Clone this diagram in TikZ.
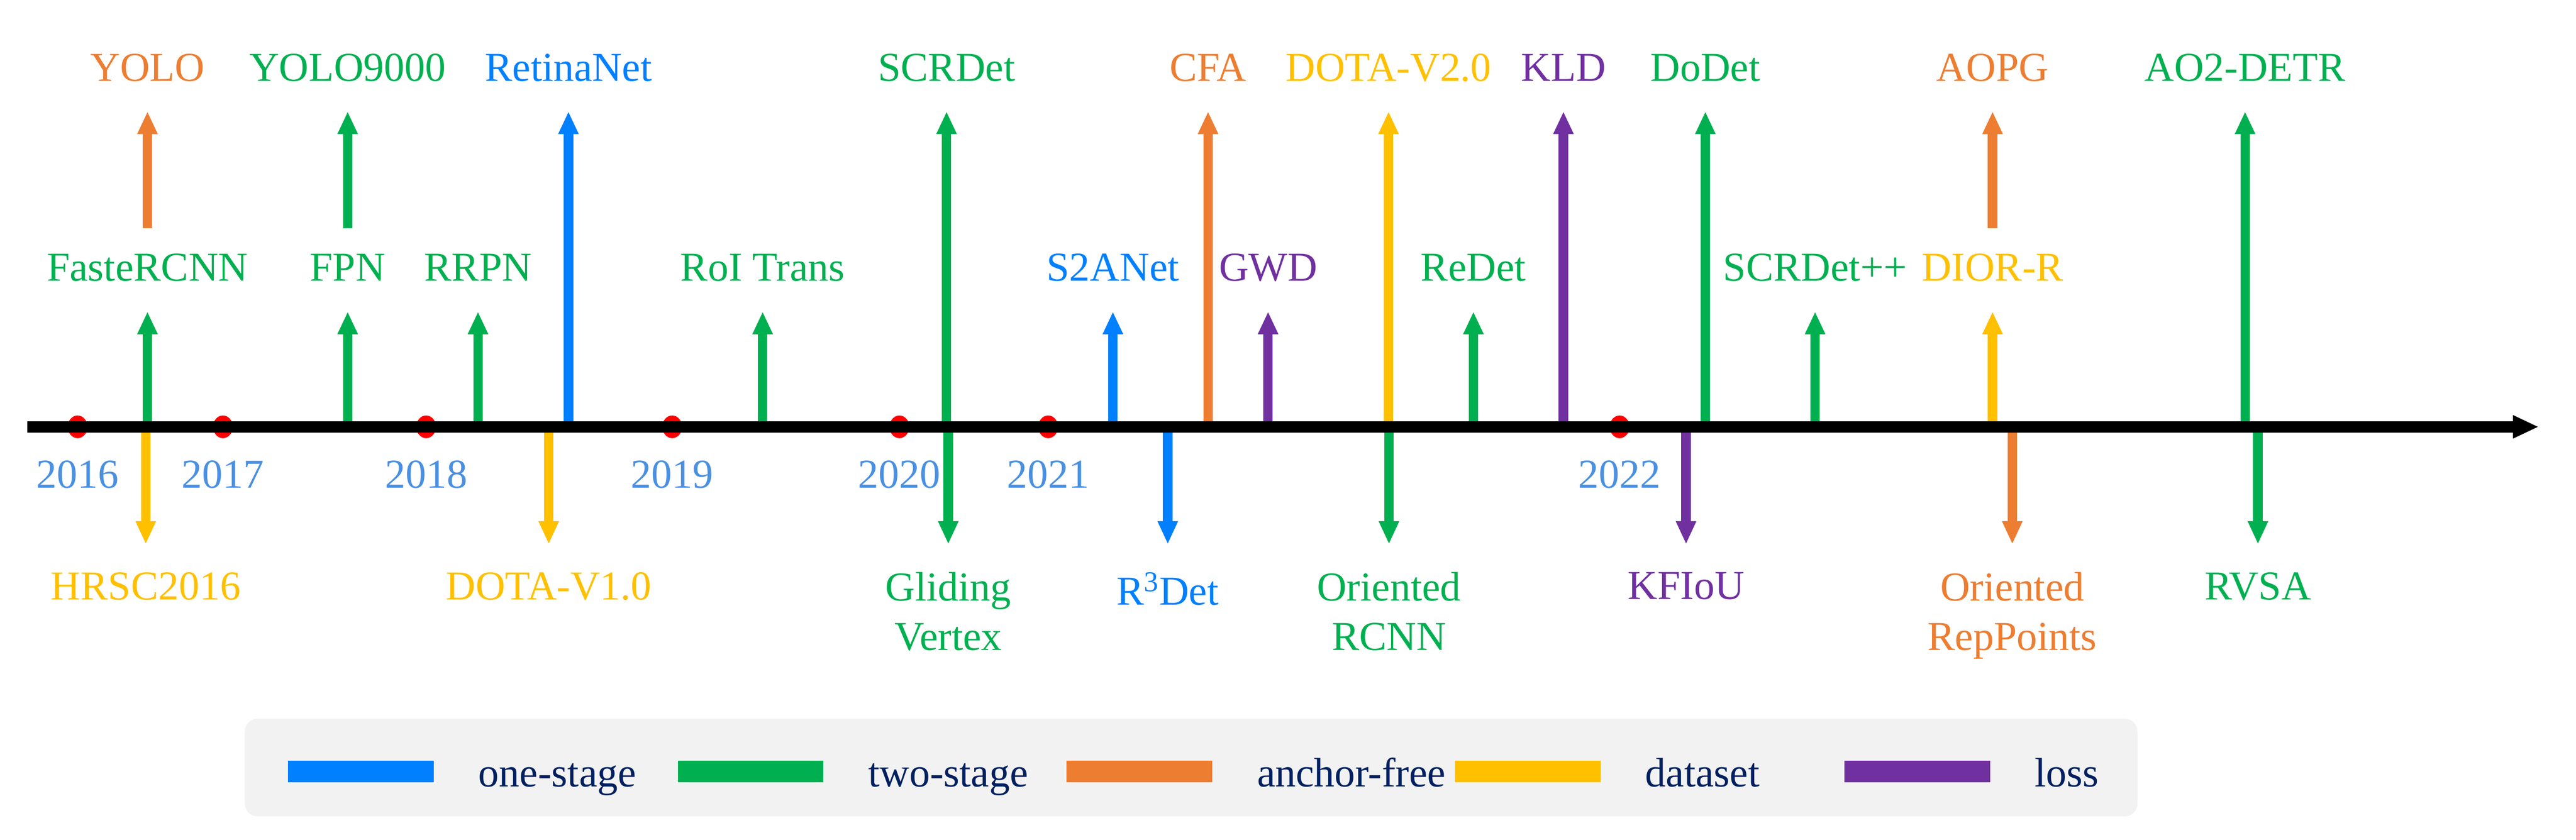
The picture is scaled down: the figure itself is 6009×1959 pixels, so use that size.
\documentclass[tikz,border=0pt]{standalone}
\usepackage{fontspec}
\setmainfont{Liberation Serif}
\usepackage{xcolor}
\usepackage{tikz}
\usetikzlibrary{arrows.meta, positioning, shapes.geometric}
\definecolor{one_stage}{HTML}{0080FF}
\definecolor{two_stage}{HTML}{00B050}
\definecolor{anchor_free}{HTML}{ED7D31}
\definecolor{data_set}{HTML}{FFC000}
\definecolor{loss_fn}{HTML}{7030A0}
\definecolor{year_blue}{HTML}{4A90E2}
\definecolor{legend_text}{HTML}{002060}
\definecolor{legend_bg}{HTML}{F2F2F2}

\begin{document}
\begin{tikzpicture}[
	x = 0.1mm, y = -0.1mm,
	upper/.style = {anchor=base},
	lower/.style = {anchor=north, align=center},
	yeardot/.style = {ellipse, fill=red, minimum width=4.6mm, minimum height=5.3mm},
	yearlbl/.style = {text=year_blue},
	rise/.style = {line width=2.2mm, -{Triangle[length=5.3mm, width=4.4mm]}, shorten >=7.1mm},
	stack/.style = {shorten <=12.4mm},
	fall/.style = {line width=2.2mm, -{Triangle[length=5.4mm, width=4.4mm]}, shorten >=6.5mm},
	timeline/.style = {line width=2.6mm, -{Triangle[length=6mm, width=5mm]}},
	legendbox/.style = {rectangle, fill=legend_bg, rounded corners=3mm, minimum width=441.5mm, minimum height=22.8mm},
	swatch/.style = {rectangle, minimum width=34mm, minimum height=5mm},
	legtxt/.style = {text=legend_text, anchor=base west, yshift=-3.6mm},
]
\tikzstyle{every node}=[font=\fontsize{27.3}{32.7}\selectfont, inner sep=0pt]
\useasboundingbox (0,0) rectangle (6009,1959);

% Year marks
\coordinate (axis) at (64,996);
\coordinate (axisEnd) at (5922,996);
\node[yeardot] (d2016) at (181,996) {};
\node[yeardot] (d2017) at (520,996) {};
\node[yeardot] (d2018) at (994,996) {};
\node[yeardot] (d2019) at (1568,996) {};
\node[yeardot] (d2020) at (2098,996) {};
\node[yeardot] (d2021) at (2445,996) {};
\node[yeardot] (d2022) at (3778,996) {};
\node[yearlbl, below=5.15mm of d2016] (y2016) {2016};
\node[yearlbl, below=5.15mm of d2017] (y2017) {2017};
\node[yearlbl, below=5.15mm of d2018] (y2018) {2018};
\node[yearlbl, below=5.15mm of d2019] (y2019) {2019};
\node[yearlbl, below=5.15mm of d2020] (y2020) {2020};
\node[yearlbl, below=5.15mm of d2021] (y2021) {2021};
\node[yearlbl, below=5.15mm of d2022] (y2022) {2022};

% Methods above the axis
\node[upper, text=anchor_free] (YOLO) at (344,189) {YOLO};
\node[upper, text=two_stage] (YOLO9000) at (811,189) {YOLO9000};
\node[upper, text=one_stage] (RetinaNet) at (1326,189) {RetinaNet};
\node[upper, text=two_stage] (SCRDet) at (2208,189) {SCRDet};
\node[upper, text=anchor_free] (CFA) at (2818,189) {CFA};
\node[upper, text=data_set] (DOTAv2) at (3239,189) {DOTA-V2.0};
\node[upper, text=loss_fn] (KLD) at (3647,189) {KLD};
\node[upper, text=two_stage] (DoDet) at (3978,189) {DoDet};
\node[upper, text=anchor_free] (AOPG) at (4648,189) {AOPG};
\node[upper, text=two_stage] (AODETR) at (5237,189) {AO2-DETR};

\node[upper, text=two_stage] (FasteRCNN) at (344,656) {FasteRCNN};
\node[upper, text=two_stage] (FPN) at (811,656) {FPN};
\node[upper, text=two_stage] (RRPN) at (1115,656) {RRPN};
\node[upper, text=two_stage] (RoITrans) at (1779,656) {RoI Trans};
\node[upper, text=one_stage] (SANet) at (2596,656) {S2ANet};
\node[upper, text=loss_fn] (GWD) at (2958,656) {GWD};
\node[upper, text=two_stage] (ReDet) at (3437,656) {ReDet};
\node[upper, text=two_stage] (SCRDetpp) at (4234,656) {SCRDet++};
\node[upper, text=data_set] (DIORR) at (4648,656) {DIOR-R};

% Methods below the axis
\node[lower, text=data_set] (HRSC) at (340,1335) {HRSC2016};
\node[lower, text=data_set] (DOTAv1) at (1280,1335) {DOTA-V1.0};
\node[lower, text=two_stage] (Gliding) at (2212,1335) {Gliding\\Vertex};
\node[lower, text=one_stage] (RDet) at (2724,1335) {R\textsuperscript{3}Det};
\node[lower, text=two_stage] (ORCNN) at (3240,1335) {Oriented\\RCNN};
\node[lower, text=loss_fn] (KFIoU) at (3933,1335) {KFIoU};
\node[lower, text=anchor_free] (ORepPoints) at (4694,1335) {Oriented\\RepPoints};
\node[lower, text=two_stage] (RVSA) at (5267,1335) {RVSA};

% Arrows up
\path[rise, color=two_stage] (FasteRCNN |- axis) edge (FasteRCNN.base);
\path[rise, stack, color=anchor_free] (FasteRCNN.base) edge (YOLO.base);
\path[rise, color=two_stage] (FPN |- axis) edge (FPN.base);
\path[rise, stack, color=two_stage] (FPN.base) edge (YOLO9000.base);
\path[rise, color=two_stage] (RRPN |- axis) edge (RRPN.base);
\path[rise, color=one_stage] (RetinaNet |- axis) edge (RetinaNet.base);
\path[rise, color=two_stage] (RoITrans |- axis) edge (RoITrans.base);
\path[rise, color=two_stage] (SCRDet |- axis) edge (SCRDet.base);
\path[rise, color=one_stage] (SANet |- axis) edge (SANet.base);
\path[rise, color=anchor_free] (CFA |- axis) edge (CFA.base);
\path[rise, color=loss_fn] (GWD |- axis) edge (GWD.base);
\path[rise, color=data_set] (DOTAv2 |- axis) edge (DOTAv2.base);
\path[rise, color=two_stage] (ReDet |- axis) edge (ReDet.base);
\path[rise, color=loss_fn] (KLD |- axis) edge (KLD.base);
\path[rise, color=two_stage] (DoDet |- axis) edge (DoDet.base);
\path[rise, color=two_stage] (SCRDetpp |- axis) edge (SCRDetpp.base);
\path[rise, color=data_set] (DIORR |- axis) edge (DIORR.base);
\path[rise, stack, color=anchor_free] (DIORR.base) edge (AOPG.base);
\path[rise, color=two_stage] (AODETR |- axis) edge (AODETR.base);

% Arrows down
\path[fall, color=data_set] (HRSC |- axis) edge (HRSC.north);
\path[fall, color=data_set] (DOTAv1 |- axis) edge (DOTAv1.north);
\path[fall, color=two_stage] (Gliding |- axis) edge (Gliding.north);
\path[fall, color=one_stage] (RDet |- axis) edge (RDet.north);
\path[fall, color=two_stage] (ORCNN |- axis) edge (ORCNN.north);
\path[fall, color=loss_fn] (KFIoU |- axis) edge (KFIoU.north);
\path[fall, color=anchor_free] (ORepPoints |- axis) edge (ORepPoints.north);
\path[fall, color=two_stage] (RVSA |- axis) edge (RVSA.north);

% Time axis
\draw[timeline] (axis) -- (axisEnd);

% Legend
\node[legendbox] (legend) at (2778.5,1791) {};
\node[swatch, fill=one_stage] (swOne) at (842,1800) {};
\node[swatch, fill=two_stage] (swTwo) at (1751,1800) {};
\node[swatch, fill=anchor_free] (swFree) at (2658,1800) {};
\node[swatch, fill=data_set] (swData) at (3564,1800) {};
\node[swatch, fill=loss_fn] (swLoss) at (4472,1800) {};
\node[right=10.3mm of swOne, legtxt] (txtOne) {one-stage};
\node[right=10.3mm of swTwo, legtxt] (txtTwo) {two-stage};
\node[right=10.3mm of swFree, legtxt] (txtFree) {anchor-free};
\node[right=10.3mm of swData, legtxt] (txtData) {dataset};
\node[right=10.3mm of swLoss, legtxt] (txtLoss) {loss};
\end{tikzpicture}
\end{document}
